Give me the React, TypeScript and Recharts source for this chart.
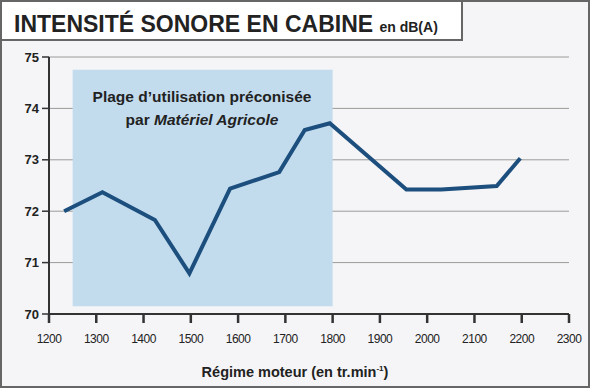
import React from 'react';
import { LineChart, Line, XAxis, YAxis, CartesianGrid, ReferenceArea } from 'recharts';

// Régime moteur (tr/min) et intensité sonore (dB(A))
const regimes = [1232, 1313, 1424, 1497, 1583, 1687, 1741, 1794, 1956, 2030, 2147, 2197];
const niveaux = [72.0, 72.37, 71.83, 70.79, 72.44, 72.76, 73.58, 73.71, 72.42, 72.42, 72.49, 73.03];

const xTicks = [1200, 1300, 1400, 1500, 1600, 1700, 1800, 1900, 2000, 2100, 2200, 2300];
const yTicks = [70, 71, 72, 73, 74, 75];

// plage préconisée
const plageRegime = [1250, 1800];
const plageDb = [70.15, 74.75];

const data = regimes.map((r, i) => ({ regime: r, db: niveaux[i] }));

const font = '"Liberation Sans", Arial, Helvetica, sans-serif';
const ink = '#222';

export default function App() {
    return (
        <div style={{ position: 'absolute', left: 0, top: 0, width: 590, height: 388, background: '#f5f5f7', fontFamily: font }}>
            <LineChart width={590} height={388} data={data} margin={{ top: 57, right: 21, bottom: 44, left: 0 }}>
                <CartesianGrid vertical={false} stroke="#9a9a9a" strokeWidth={1} />
                <ReferenceArea
                    x1={plageRegime[0]}
                    x2={plageRegime[1]}
                    y1={plageDb[0]}
                    y2={plageDb[1]}
                    fill="#c2dcee"
                    fillOpacity={1}
                    stroke="none"
                    ifOverflow="extendDomain"
                />
                <XAxis
                    dataKey="regime"
                    type="number"
                    domain={[1200, 2300]}
                    ticks={xTicks}
                    height={30}
                    tickSize={9}
                    tickMargin={11}
                    axisLine={{ stroke: '#333', strokeWidth: 2 }}
                    tickLine={{ stroke: '#333', strokeWidth: 2.5 }}
                    tick={{ fill: ink, fontSize: 12, fontFamily: font, letterSpacing: -0.5 }}
                />
                <YAxis
                    type="number"
                    domain={[70, 75]}
                    ticks={yTicks}
                    width={49}
                    tickSize={7}
                    tickMargin={3}
                    axisLine={{ stroke: '#333', strokeWidth: 2 }}
                    tickLine={{ stroke: '#333', strokeWidth: 1.5 }}
                    tick={{ fill: ink, fontSize: 13, fontWeight: 'bold', fontFamily: font }}
                />
                <Line
                    type="linear"
                    dataKey="db"
                    stroke="#1d4f7e"
                    strokeWidth={4}
                    dot={false}
                    activeDot={false}
                    isAnimationActive={false}
                />
            </LineChart>

            {/* annotation de la plage */}
            <div style={{ position: 'absolute', left: 52, top: 85, width: 300, textAlign: 'center', fontSize: 15.5, fontWeight: 'bold', lineHeight: '23px', color: ink }}>
                Plage d’utilisation préconisée<br />
                par <i>Matériel Agricole</i>
            </div>

            {/* titre de l'axe X */}
            <div style={{ position: 'absolute', left: 0, top: 364, width: 590, textAlign: 'center', fontSize: 14.5, fontWeight: 'bold', color: ink }}>
                Régime moteur (en tr.min<sup style={{ fontSize: 8 }}>-1</sup>)
            </div>

            {/* cadre du titre */}
            <div style={{ position: 'absolute', left: 0, top: 0, width: 463, height: 41, boxSizing: 'border-box', background: '#fff', border: '2px solid #666', color: ink }}>
                <span style={{ position: 'absolute', left: 12, top: 9, fontSize: 23, fontWeight: 'bold', whiteSpace: 'nowrap' }}>
                    INTENSITÉ SONORE EN CABINE <span style={{ fontSize: 14 }}>en dB(A)</span>
                </span>
            </div>

            {/* bordure extérieure */}
            <div style={{ position: 'absolute', left: 0, top: 0, width: 590, height: 388, boxSizing: 'border-box', border: '2px solid #666', pointerEvents: 'none' }} />
        </div>
    );
}
